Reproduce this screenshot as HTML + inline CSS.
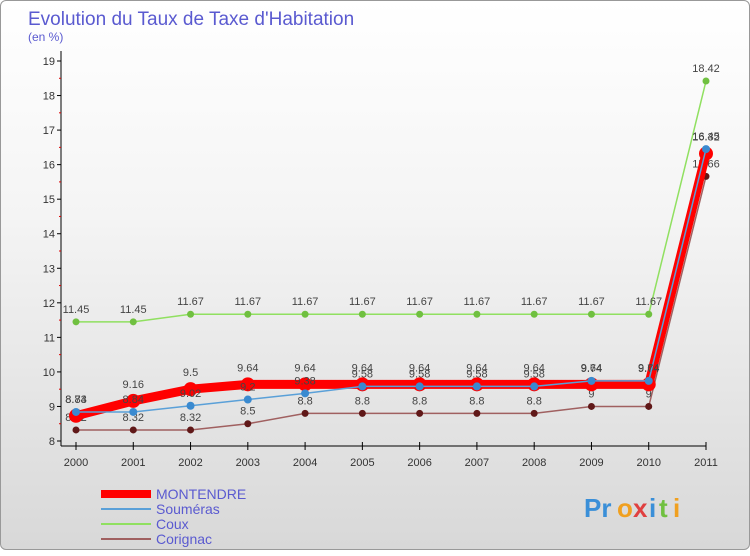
<!DOCTYPE html>
<html><head><meta charset="utf-8"><style>
body{margin:0;width:750px;height:550px;overflow:hidden;font-family:"Liberation Sans",sans-serif}
#c{position:absolute;left:0;top:0;width:748px;height:548px;border:1px solid #999;border-radius:6px;background:linear-gradient(#fff 0%,#f4f4f4 40%,#d8d8d8 100%)}
</style></head><body>
<div id="c">
<svg id="s" width="750" height="550">
<text x="27" y="24" font-size="19" fill="#5a5ad0">Evolution du Taux de Taxe d'Habitation</text>
<text x="27" y="40" font-size="12" fill="#5a5ad0">(en %)</text>
<g id="axes"></g><g id="series"></g><g id="legend"></g>
<g font-size="26" font-weight="bold">
<text x="583" y="516" fill="#3a8fd8">Pr</text><text x="616" y="516" fill="#f0a020">o</text><text x="632" y="516" fill="#e04040">x</text><text x="648" y="516" fill="#3a8fd8">i</text><text x="658" y="516" fill="#70c040">t</text><text x="672" y="516" fill="#f0a020">i</text>
</g>
</svg></div>
<script>
const years=["2000","2001","2002","2003","2004","2005","2006","2007","2008","2009","2010","2011"];
const montendre=[8.73,9.16,9.5,9.64,9.64,9.64,9.64,9.64,9.64,9.64,9.64,16.32];
const soumeras=[8.84,8.84,9.02,9.2,9.38,9.58,9.58,9.58,9.58,9.74,9.74,16.45];
const coux=[11.45,11.45,11.67,11.67,11.67,11.67,11.67,11.67,11.67,11.67,11.67,18.42];
const corignac=[8.32,8.32,8.32,8.5,8.8,8.8,8.8,8.8,8.8,9,9,15.66];
const yTicks=[8,9,10,11,12,13,14,15,16,17,18,19];
const NS="http://www.w3.org/2000/svg";
const X=i=>75+i*(630/11), Y=v=>440-(v-8)*(380/11);
function mk(p,t,a){const e=document.createElementNS(NS,t);for(const k in a)e.setAttribute(k,a[k]);p.appendChild(e);return e;}
const ax=document.getElementById('axes');
let l=mk(ax,'line',{x1:60,y1:50,x2:60,y2:445,stroke:'#000'});


l=mk(ax,'line',{x1:60,y1:445,x2:705,y2:445,stroke:'#000'});


yTicks.forEach(v=>{
 mk(ax,'line',{x1:56,y1:Y(v),x2:60,y2:Y(v),stroke:'#000'});
 if(v<19) mk(ax,'line',{x1:58,y1:Y(v+0.5),x2:60,y2:Y(v+0.5),stroke:'#d00'});
 const t=mk(ax,'text',{x:54,y:Y(v)+4,'font-size':11,'text-anchor':'end',fill:'#333'});t.textContent=v;
 
 
});
years.forEach((y,i)=>{
 mk(ax,'line',{x1:X(i),y1:441,x2:X(i),y2:449,stroke:'#000'});
 const t=mk(ax,'text',{x:X(i),y:465,'font-size':11,'text-anchor':'middle',fill:'#333'});t.textContent=y;
 
 
});
const sg=document.getElementById('series');
function draw(data,name,col,w,r,dot,off){
 const g=mk(sg,'g',{});
 
 
 mk(g,'polyline',{points:data.map((v,i)=>X(i)+','+Y(v)).join(' '),fill:'none',stroke:col,'stroke-width':w});
 data.forEach((v,i)=>{
  const c=mk(g,'circle',{cx:X(i),cy:Y(v),r:r,fill:dot});
  
  
  const t=mk(g,'text',{x:X(i),y:Y(v)+off,'font-size':11,'text-anchor':'middle',fill:'#444'});t.textContent=v;
  
  
 });
}
draw(coux,'coux','#90e060',1.5,3.5,'#70c040',-9);
draw(corignac,'corignac','#a06060',1.5,3.5,'#601818',-9);
draw(montendre,'montendre','#f00',9,7,'#f00',-13);
draw(soumeras,'soumeras','#5aa0d8',1.5,4,'#3a8ad0',-9);
const lg=document.getElementById('legend');
[["MONTENDRE","#f00",8],["Souméras","#5aa0d8",2],["Coux","#90e060",2],["Corignac","#a06060",2]].forEach((e,i)=>{
 const y=493+i*15;
 const g=mk(lg,'g',{});
 
 
 mk(g,'line',{x1:100,y1:y,x2:150,y2:y,stroke:e[1],'stroke-width':e[2]});
 const t=mk(g,'text',{x:155,y:y+5,'font-size':14,fill:'#5a5ad0'});t.textContent=e[0];
});
</script></body></html>
